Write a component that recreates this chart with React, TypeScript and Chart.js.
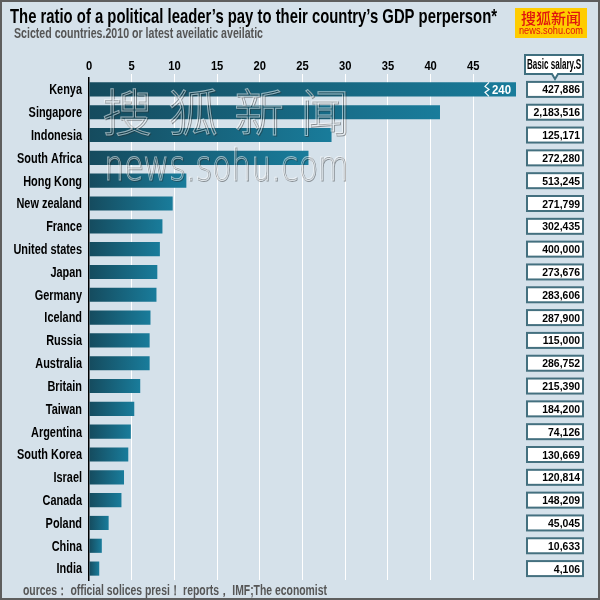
import React, { useEffect, useRef } from "react";
import { Chart, registerables } from "chart.js";

Chart.register(...registerables);

const countries = [
  "Kenya", "Singapore", "Indonesia", "South Africa", "Hong Kong", "New zealand",
  "France", "United states", "Japan", "Germany", "Iceland", "Russia", "Australia",
  "Britain", "Taiwan", "Argentina", "South Korea", "Israel", "Canada", "Poland",
  "China", "India",
];
const ratios = [
  240, 41.1, 28.4, 25.7, 11.4, 9.8, 8.6, 8.3, 8.0, 7.9, 7.2, 7.1, 7.1,
  6.0, 5.3, 4.9, 4.6, 4.1, 3.8, 2.3, 1.5, 1.2,
];
const salaries = [
  "427,886", "2,183,516", "125,171", "272,280", "513,245", "271,799", "302,435",
  "400,000", "273,676", "283,606", "287,900", "115,000", "286,752", "215,390",
  "184,200", "74,126", "130,669", "120,814", "148,209", "45,045", "10,633", "4,106",
];
const axisMax = 50;
const tickStep = 5;
const kenyaLabel = "240";

const titleText = "The ratio of a political leader\u2019s pay to their country\u2019s GDP perperson*";
const subtitleText = "Scicted countries.2010 or latest aveilatic aveilatic";
const sourceText = "ources\uFF1A official solices presi\uFF01 reports\uFF0C IMF;The economist";
const salaryHeader = "Basic salary.S";

const SANS = '"Liberation Sans", Arial, sans-serif';
const BG = "#d5e1ea";

function condensed(
  ctx: CanvasRenderingContext2D,
  text: string,
  x: number,
  y: number,
  font: string,
  sx: number,
  align: CanvasTextAlign,
  maxWidth?: number
) {
  ctx.save();
  ctx.font = font;
  ctx.textAlign = align;
  ctx.translate(x, y);
  let s = sx;
  if (maxWidth) {
    const w = ctx.measureText(text).width * sx;
    if (w > maxWidth) s = (sx * maxWidth) / w;
  }
  ctx.scale(s, 1);
  ctx.fillText(text, 0, 0);
  ctx.restore();
}

export default function App() {
  const ref = useRef<HTMLCanvasElement | null>(null);

  useEffect(() => {
    const canvas = ref.current;
    if (!canvas) return;

    const deco = {
      id: "deco",
      beforeDraw(chart: any) {
        const ctx = chart.ctx;
        ctx.save();
        ctx.fillStyle = BG;
        ctx.fillRect(0, 0, chart.width, chart.height);
        ctx.restore();
      },
      afterDatasetsDraw(chart: any) {
        const ctx = chart.ctx;
        const ys = chart.scales.y;
        const xs = chart.scales.x;
        const area = chart.chartArea;
        ctx.save();

        // Category labels (condensed bold)
        ctx.fillStyle = "#000000";
        ctx.textBaseline = "middle";
        countries.forEach((c, i) => {
          condensed(ctx, c, area.left - 7, ys.getPixelForValue(i) + 1, "bold 14px " + SANS, 0.78, "right");
        });

        // x tick labels
        ctx.textBaseline = "alphabetic";
        for (let v = 0; v < axisMax; v += tickStep) {
          condensed(ctx, String(v), xs.getPixelForValue(v), area.top - 8, "bold 13px " + SANS, 0.86, "center");
        }

        // Kenya break marker
        const ky = ys.getPixelForValue(0);
        ctx.strokeStyle = "#ffffff";
        ctx.lineWidth = 1.2;
        ctx.beginPath();
        const zx = area.right - 29;
        ctx.moveTo(zx + 2, ky - 7);
        ctx.lineTo(zx - 2, ky - 3);
        ctx.lineTo(zx + 2, ky);
        ctx.lineTo(zx - 2, ky + 3);
        ctx.lineTo(zx + 2, ky + 7);
        ctx.stroke();
        ctx.fillStyle = "#ffffff";
        ctx.textBaseline = "middle";
        condensed(ctx, kenyaLabel, area.right - 5, ky + 1, "bold 12px " + SANS, 0.95, "right");

        // watermark (embossed)
        const drawEmboss = (text: string, x: number, y: number, font: string, width?: number) => {
          ctx.font = font;
          ctx.textAlign = "left";
          ctx.textBaseline = "alphabetic";
          ctx.lineWidth = 1;
          ctx.strokeStyle = "rgba(40,40,40,0.45)";
          if (width) ctx.strokeText(text, x + 1, y + 1, width);
          else ctx.strokeText(text, x + 1, y + 1);
          ctx.strokeStyle = "rgba(255,255,255,0.55)";
          if (width) ctx.strokeText(text, x, y, width);
          else ctx.strokeText(text, x, y);
        };
        const wmChars = ["\u641C", "\u72D0", "\u65B0", "\u95FB"];
        wmChars.forEach((c, i) => {
          drawEmboss(c, 102 + i * 66, 131, '300 50px "Noto Sans CJK SC"');
        });
        drawEmboss("news.sohu.com", 104, 180, '300 42px "DejaVu Sans"', 244);

        ctx.restore();
      },
      afterDraw(chart: any) {
        const ctx = chart.ctx;
        const ys = chart.scales.y;
        ctx.save();

        // frame
        ctx.strokeStyle = "#5e5e5e";
        ctx.lineWidth = 2;
        ctx.strokeRect(1, 1, chart.width - 2, chart.height - 2);

        // title & subtitle
        ctx.fillStyle = "#000000";
        ctx.textBaseline = "alphabetic";
        condensed(ctx, titleText, 10, 23, "bold 21px " + SANS, 0.8, "left", 487);
        ctx.fillStyle = "#555555";
        condensed(ctx, subtitleText, 14, 38, "bold 14px " + SANS, 0.8, "left", 249);

        // logo
        ctx.fillStyle = "#ffcc00";
        ctx.fillRect(515, 8, 72, 30);
        ctx.fillStyle = "#e0140f";
        ctx.textAlign = "center";
        ctx.font = '500 15px "Noto Sans CJK SC"';
        ctx.textBaseline = "middle";
        ctx.fillText("\u641C\u72D0\u65B0\u95FB", 551, 18);
        ctx.font = '10px ' + SANS;
        ctx.fillText("news.sohu.com", 551, 31, 64);

        // salary header callout
        const bx = 525, bw = 58, byTop = 55, bh = 19;
        ctx.fillStyle = "#ffffff";
        ctx.strokeStyle = "#3f6f7f";
        ctx.lineWidth = 2;
        ctx.beginPath();
        ctx.moveTo(bx, byTop);
        ctx.lineTo(bx + bw, byTop);
        ctx.lineTo(bx + bw, byTop + bh);
        ctx.lineTo(558, byTop + bh);
        ctx.lineTo(555, byTop + bh + 5);
        ctx.lineTo(552, byTop + bh);
        ctx.lineTo(bx, byTop + bh);
        ctx.closePath();
        ctx.fill();
        ctx.stroke();
        ctx.fillStyle = "#000000";
        ctx.textBaseline = "middle";
        condensed(ctx, salaryHeader, bx + bw / 2, byTop + bh / 2 + 1, "bold 14px " + SANS, 0.78, "center", bw - 4);

        // salary value boxes
        salaries.forEach((s, i) => {
          const y = ys.getPixelForValue(i);
          const x0 = 527, w = 56, h = 15;
          ctx.fillStyle = "#ffffff";
          ctx.fillRect(x0, y - h / 2, w, h);
          ctx.strokeStyle = "#44707f";
          ctx.lineWidth = 2;
          ctx.strokeRect(x0, y - h / 2, w, h);
          ctx.fillStyle = "#000000";
          ctx.textBaseline = "middle";
          condensed(ctx, s, x0 + w - 3, y + 1, "bold 11px " + SANS, 0.95, "right", w - 6);
        });

        // footer
        ctx.fillStyle = "#555555";
        ctx.textBaseline = "middle";
        condensed(ctx, sourceText, 23, 591, "bold 14px " + SANS, 0.8, "left", 304);

        ctx.restore();
      },
    };

    const chart = new Chart(canvas, {
      type: "bar",
      data: {
        labels: countries,
        datasets: [
          {
            data: ratios,
            backgroundColor: (c: any) => {
              const ch = c.chart;
              const xs = ch.scales.x;
              const area = ch.chartArea;
              if (!xs || !area || c.raw === undefined) return "#17708d";
              const x0 = xs.getPixelForValue(0);
              const x1 = Math.min(xs.getPixelForValue(c.raw), area.right);
              const g = ch.ctx.createLinearGradient(x0, 0, Math.max(x1, x0 + 1), 0);
              g.addColorStop(0, "#154b5e");
              g.addColorStop(1, "#197c9b");
              return g;
            },
            borderWidth: 0,
            barPercentage: 0.62,
            categoryPercentage: 1,
          },
        ],
      },
      options: {
        indexAxis: "y",
        responsive: false,
        animation: false,
        maintainAspectRatio: false,
        layout: { padding: { left: 0, right: 84, top: 50, bottom: 20 } },
        plugins: {
          legend: { display: false },
          tooltip: { enabled: false },
          title: { display: false },
        },
        scales: {
          x: {
            type: "linear",
            position: "top",
            min: 0,
            max: axisMax,
            afterFit: (s: any) => {
              s.height = 28;
            },
            ticks: {
              stepSize: tickStep,
              display: false,
            },
            grid: {
              color: (c: any) =>
                c.tick && (c.tick.value === 0 || c.tick.value >= axisMax) ? "rgba(0,0,0,0)" : "#ffffff",
              lineWidth: 1,
              tickLength: 4,
              drawTicks: true,
            },
            border: { display: false },
          },
          y: {
            type: "category",
            afterFit: (s: any) => {
              s.width = 89;
            },
            ticks: {
              display: false,
              autoSkip: false,
            },
            grid: { display: false, drawTicks: false },
            border: { display: true, color: "#000000", width: 1.5 },
          },
        },
      },
      plugins: [deco],
    });

    return () => chart.destroy();
  }, []);

  return (
    <div style={{ position: "fixed", left: 0, top: 0, width: 600, height: 600 }}>
      <canvas ref={ref} width={600} height={600} style={{ width: 600, height: 600, display: "block" }} />
    </div>
  );
}
